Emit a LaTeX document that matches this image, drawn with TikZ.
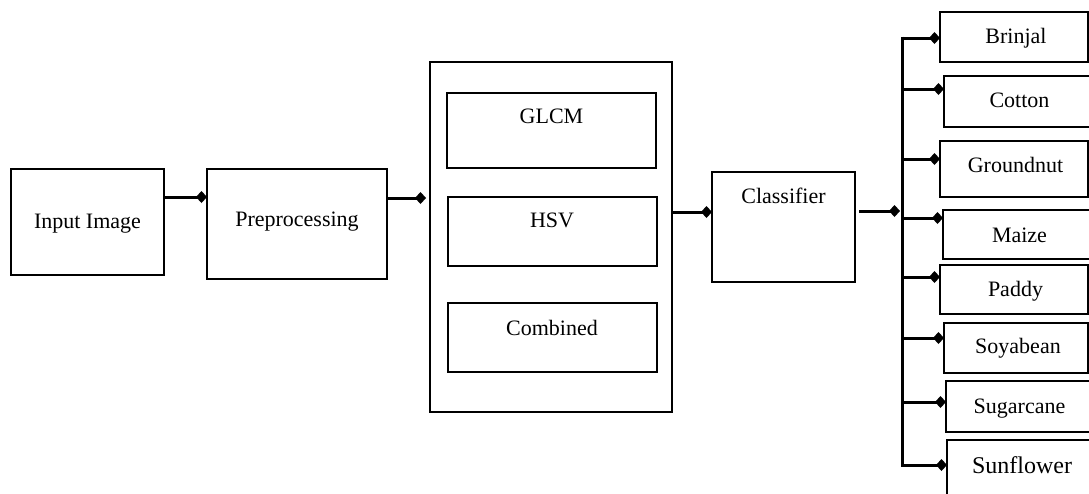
\documentclass[tikz,border=0pt]{standalone}
\usepackage{fontspec}
\setmainfont{Liberation Serif}
\usetikzlibrary{arrows.meta,calc}
\tikzset{
  box/.style={draw=black, line width=2.1pt, rectangle, inner sep=0pt, outer sep=0pt, fill=white},
  lbl/.style={anchor=base, inner sep=0pt, font=\fontsize{22}{24}\selectfont},
  conn/.style={draw=black, line width=3pt, -{Diamond[length=11pt,width=12pt]}},
  plain/.style={draw=black, line width=3pt},
}
\newcommand{\mybox}[5]{% name, x1, y1, x2, y2
  \node[box, minimum width={(#4-#2)*1pt}, minimum height={(#5-#3)*1pt}] (#1) at ({(#2+#4)/2},{(#3+#5)/2}) {};}
\begin{document}
\begin{tikzpicture}[x=1pt,y=-1pt]
\useasboundingbox (0,0) rectangle (1089,493);
\clip (0,0) rectangle (1089,493);
\fill[white] (0,0) rectangle (1089,493);

% left chain
\mybox{inp}{11}{169}{164}{275}
\mybox{pre}{207}{169}{387}{279}
\mybox{big}{430}{62}{672}{412}
\mybox{glcm}{447}{93}{656}{168}
\mybox{hsv}{448}{197}{657}{266}
\mybox{comb}{448}{303}{657}{372}
\mybox{cls}{712}{172}{855}{282}

\node[lbl] (tinp) at (87.5,228) {Input Image};
\node[lbl] (tpre) at (297,226) {Preprocessing};
\node[lbl] (tglcm) at (551.5,123) {GLCM};
\node[lbl] (thsv) at (552,227) {HSV};
\node[lbl] (tcomb) at (552,335) {Combined};
\node[lbl] (tcls) at (783.5,203) {Classifier};

% right boxes
\mybox{brinjal}{940}{12}{1088}{62}
\mybox{cotton}{944}{76}{1100}{127}
\mybox{groundnut}{940}{141}{1088}{197}
\mybox{maize}{943}{210}{1100}{259}
\mybox{paddy}{940}{265}{1088}{314}
\mybox{soyabean}{944}{323}{1088}{373}
\mybox{sugarcane}{946}{381}{1100}{432}
\mybox{sunflower}{947}{440}{1100}{510}

\node[lbl] (tbrinjal) at (1016,43) {Brinjal};
\node[lbl] (tcotton) at (1019.5,107) {Cotton};
\node[lbl] (tgroundnut) at (1015.5,172) {Groundnut};
\node[lbl] (tmaize) at (1019.5,242) {Maize};
\node[lbl] (tpaddy) at (1015.5,296) {Paddy};
\node[lbl] (tsoyabean) at (1018,353) {Soyabean};
\node[lbl] (tsugarcane) at (1019.5,413) {Sugarcane};
\node[lbl, font=\fontsize{24}{26}\selectfont] (tsunflower) at (1022,473) {Sunflower};

% connectors of the chain
\coordinate (c1) at (164,197);
\draw[conn] (c1) -- (c1 -| pre.west);
\coordinate (c2) at (387,198);
\draw[conn] (c2) -- ([xshift=-4pt]c2 -| big.west);
\coordinate (c3) at (672,212);
\draw[conn] (c3) -- (c3 -| cls.west);
\coordinate (spine) at (902,211);
\coordinate (c4) at (859,211);
\draw[conn] (c4) -- ([xshift=-2pt]spine);

% spine
\coordinate (stop) at (902,38);
\coordinate (sbot) at (902,465);
\draw[plain] ([yshift=1.5pt]stop) -- ([yshift=-1.5pt]sbot);

% branches
\foreach \n/\y in {brinjal/38, cotton/89, groundnut/159, maize/218, paddy/277, soyabean/338, sugarcane/402, sunflower/465}{
  \coordinate (b-\n) at (902,\y);
  \draw[conn] (b-\n) -- (b-\n -| \n.west);
}
\end{tikzpicture}
\end{document}
